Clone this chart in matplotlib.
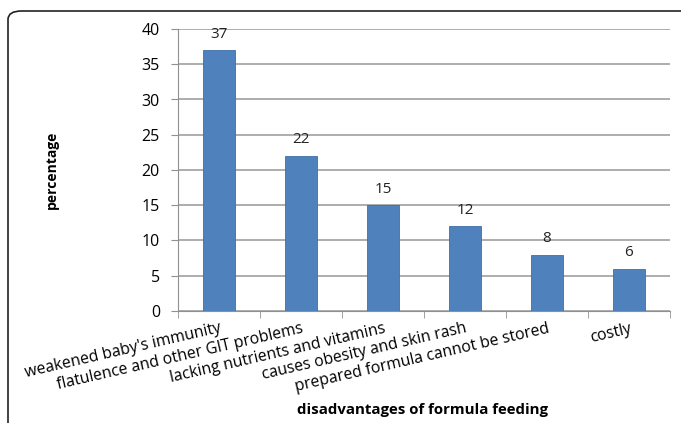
import matplotlib
matplotlib.use("Agg")
import matplotlib.pyplot as plt
from matplotlib.patches import FancyBboxPatch
import numpy as np

categories = ["weakened baby's immunity", "flatulence and other GIT problems",
              "lacking nutrients and vitamins", "causes obesity and skin rash",
              "prepared formula cannot be stored", "costly"]
values = [37, 22, 15, 12, 8, 6]
yticks = [0, 5, 10, 15, 20, 25, 30, 35, 40]

plt.rcParams['font.family'] = ['Open Sans', 'DejaVu Sans']

W, H = 681, 423
fig = plt.figure(figsize=(W/100, H/100), dpi=100)
ax = fig.add_axes([178/W, 1-311/H, (670-178)/W, (311-29)/H])

x = np.arange(len(categories))
bars = ax.bar(x, values, width=0.4, color='#4F81BD', edgecolor='#3F6EA6', linewidth=0.6, zorder=3)
for xi, v in zip(x, values):
    ax.text(xi, v + 1.2, str(v), ha='center', va='bottom', fontsize=11, color='#222222')

ax.set_xlim(-0.5, len(categories) - 0.5)
ax.set_ylim(0, 40)
ax.set_yticks(yticks)
ax.set_yticklabels([str(t) for t in yticks], fontsize=11.5)
ax.yaxis.grid(True, color='#A0A0A0', linewidth=1.2, zorder=0)
ax.set_axisbelow(True)

ax.set_xticks(x)
ax.set_xticklabels(categories, rotation=13, ha='right', rotation_mode='anchor', fontsize=11.3)
ax.tick_params(axis='x', length=0, pad=7)
ax.set_xticks(np.arange(-0.5, len(categories) + 0.5, 1), minor=True)
ax.tick_params(axis='x', which='minor', length=5, color='#909090', direction='out')
ax.tick_params(axis='y', length=5, color='#909090', pad=8)
for s in ['top', 'right']:
    ax.spines[s].set_visible(False)
for s in ['left', 'bottom']:
    ax.spines[s].set_color('#909090')

fig.text(52/W, 1-170/H, 'percentage', rotation=90, ha='center', va='center',
         fontsize=10, fontweight='bold')
fig.text(422/W, 1-410/H, 'disadvantages of formula feeding', ha='center', va='center',
         fontsize=10.8, fontweight='bold')

border = FancyBboxPatch((8/W, -20/H), 720/W, (412+20)/H - 0,
                        boxstyle='round,pad=0,rounding_size=0.02',
                        transform=fig.transFigure, fill=False, edgecolor='#222222',
                        linewidth=1.2, clip_on=False)
fig.patches.append(border)

fig.savefig('out.png', dpi=100)
